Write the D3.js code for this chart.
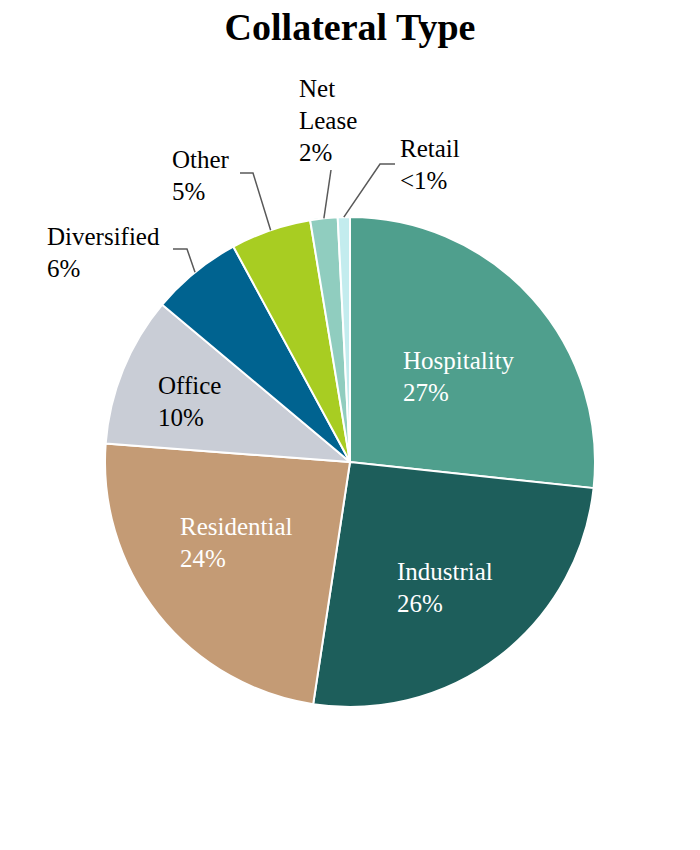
<!DOCTYPE html>
<html>
<head>
<meta charset="utf-8">
<script src="https://cdn.jsdelivr.net/npm/d3@7"></script>
<style>
  html, body { margin: 0; padding: 0; background: #fff; }
</style>
</head>
<body>
<svg id="chart" width="700" height="850"></svg>
<script>
const title = "Collateral Type";
const categories = ["Hospitality", "Industrial", "Residential", "Office", "Diversified", "Other", "Net Lease", "Retail"];
const values = [26.7, 25.7, 23.8, 9.9, 6.0, 5.3, 1.8, 0.8];
const pctLabels = ["27%", "26%", "24%", "10%", "6%", "5%", "2%", "<1%"];
const colors = ["#4F9F8D", "#1D5E5B", "#C49B75", "#C9CDD6", "#006390", "#A8CD22", "#90CDBF", "#C3ECEE"];

const FONT = "'Liberation Serif', 'Times New Roman', Times, serif";

// layout (positions only)
const cx = 350, cy = 462, R = 245;
const labelLayout = {
  "Hospitality": {x: 403, y: 369, fill: "#fff", lines: ["Hospitality"]},
  "Industrial":  {x: 397, y: 580, fill: "#fff", lines: ["Industrial"]},
  "Residential": {x: 180, y: 535, fill: "#fff", lines: ["Residential"]},
  "Office":      {x: 158, y: 394, fill: "#000", lines: ["Office"]},
  "Diversified": {x: 47,  y: 245, fill: "#000", lines: ["Diversified"], elbow: [[173, 249], [187, 249]]},
  "Other":       {x: 172, y: 168, fill: "#000", lines: ["Other"], elbow: [[240, 173], [253, 173]]},
  "Net Lease":   {x: 299, y: 97,  fill: "#000", lines: ["Net", "Lease"], elbow: [[331, 170]]},
  "Retail":      {x: 400, y: 157, fill: "#000", lines: ["Retail"], elbow: [[395, 164], [380, 164]]}
};
const lineH = 32;

const data = categories.map((c, i) => ({name: c, value: values[i], pct: pctLabels[i], color: colors[i]}));

const svg = d3.select("#chart");

svg.append("text")
  .attr("x", 350).attr("y", 40)
  .attr("text-anchor", "middle")
  .style("font-family", FONT)
  .attr("font-size", 38).attr("font-weight", "bold")
  .attr("fill", "#000")
  .text(title);

const pie = d3.pie().value(d => d.value).sort(null);
const arc = d3.arc().innerRadius(0).outerRadius(R);
const arcs = pie(data);

const g = svg.append("g").attr("transform", `translate(${cx},${cy})`);
g.selectAll("path").data(arcs).join("path")
  .attr("d", arc)
  .attr("fill", d => d.data.color)
  .attr("stroke", "#fff")
  .attr("stroke-width", 2);

// leader lines
arcs.forEach(a => {
  const L = labelLayout[a.data.name];
  if (!L.elbow) return;
  const mid = (a.startAngle + a.endAngle) / 2;
  const ex = cx + R * Math.sin(mid), ey = cy - R * Math.cos(mid);
  const pts = L.elbow.concat([[ex, ey]]);
  svg.append("path")
    .attr("d", d3.line()(pts))
    .attr("fill", "none")
    .attr("stroke", "#595959")
    .attr("stroke-width", 1.5);
});

// labels
arcs.forEach(a => {
  const L = labelLayout[a.data.name];
  const t = svg.append("text")
    .attr("x", L.x).attr("y", L.y)
    .style("font-family", FONT)
    .attr("font-size", 25)
    .attr("fill", L.fill);
  const lines = L.lines.concat([a.data.pct]);
  lines.forEach((ln, i) => {
    t.append("tspan").attr("x", L.x).attr("y", L.y + i * lineH)
      .style("font-family", FONT)
      .text(ln);
  });
});
</script>
</body>
</html>
